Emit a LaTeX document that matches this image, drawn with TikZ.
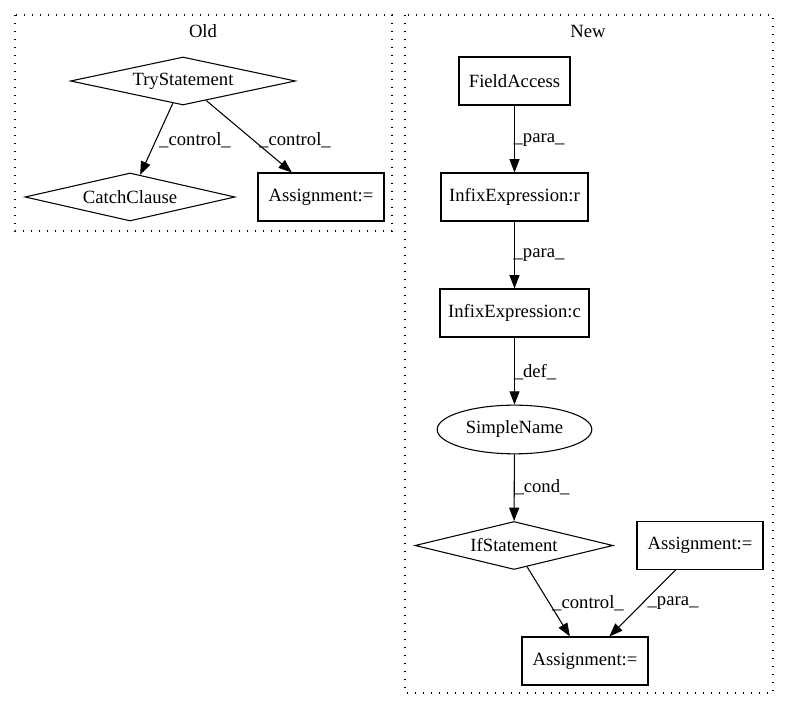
\documentclass[tikz,border=0pt]{standalone}
\usepackage{fontspec}
\setmainfont{Liberation Serif}
\usetikzlibrary{shapes.geometric,arrows.meta}

\tikzset{
  every node/.style={font=\fontsize{14}{16}\selectfont},
  stmt/.style={draw, rectangle, line width=0.8pt, minimum height=36pt, inner sep=0pt},
  cond/.style={draw, diamond, aspect=4.7, line width=0.8pt, minimum height=36pt, inner sep=0pt},
  var/.style={draw, ellipse, line width=0.8pt, minimum width=116pt, minimum height=36.5pt, inner sep=0pt},
  flow/.style={line width=0.8pt, -{Triangle[length=10pt,width=7.5pt]}},
  lbl/.style={inner sep=0.75pt},
  cluster/.style={line width=0.9pt, dash pattern=on 1.1pt off 4.9pt}
}

\begin{document}
\begin{tikzpicture}[x=0.75pt,y=0.75pt,yscale=-1,xscale=1]
    \useasboundingbox (0,0) rectangle (789,712);

    %Cluster: Old
    \draw [cluster] (15,15) rectangle (392,231);
    \node (oldtitle) at (203,31) {Old};
    %Cluster: New
    \draw [cluster] (405,15) rectangle (773,693);
    \node (newtitle) at (588,31) {New};

    %Nodes: Old
    \node [cond, minimum width=168.75pt] (trystmt) at (183,81) {TryStatement};
    \node [cond, minimum width=157.5pt] (catchcl) at (130,197) {CatchClause};
    \node [stmt, minimum width=94.5pt] (assignold) at (321,197) {Assignment:=};

    %Nodes: New
    \node [stmt, minimum width=83.25pt] (fieldacc) at (514.5,81) {FieldAccess};
    \node [stmt, minimum width=110.25pt] (infixr) at (514.5,197) {InfixExpression:r};
    \node [stmt, minimum width=111.75pt] (infixc) at (514.5,313) {InfixExpression:c};
    \node [var] (simplename) at (514.5,429.5) {SimpleName};
    \node [cond, minimum width=148.5pt] (ifstmt) at (514,545.5) {IfStatement};
    \node [stmt, minimum width=94.5pt] (assignright) at (700,545.5) {Assignment:=};
    \node [stmt, minimum width=94.5pt] (assignbottom) at (585,661) {Assignment:=};

    %Edges: Old
    \draw [flow] (trystmt) -- (catchcl);
    \draw [flow] (trystmt) -- (assignold);

    %Edges: New
    \draw [flow] (fieldacc) -- (infixr);
    \draw [flow] (infixr) -- (infixc);
    \draw [flow] (infixc) -- (simplename);
    \draw [flow] (simplename) -- (ifstmt);
    \draw [flow] (ifstmt) -- (assignbottom);
    \draw [flow] (assignright) -- (assignbottom);

    % Text Node
    \node [lbl] (lblcatch) at (195,140) {\_control\_};
    % Text Node
    \node [lbl] (lblassignold) at (295,140) {\_control\_};
    % Text Node
    \node [lbl] (lblpara1) at (539,140) {\_para\_};
    % Text Node
    \node [lbl] (lblpara2) at (539,255) {\_para\_};
    % Text Node
    \node [lbl] (lbldef) at (535,372) {\_def\_};
    % Text Node
    \node [lbl] (lblcond) at (542,487) {\_cond\_};
    % Text Node
    \node [lbl] (lblcontrol) at (588,603) {\_control\_};
    % Text Node
    \node [lbl] (lblpara3) at (673,603) {\_para\_};

\end{tikzpicture}
\end{document}
